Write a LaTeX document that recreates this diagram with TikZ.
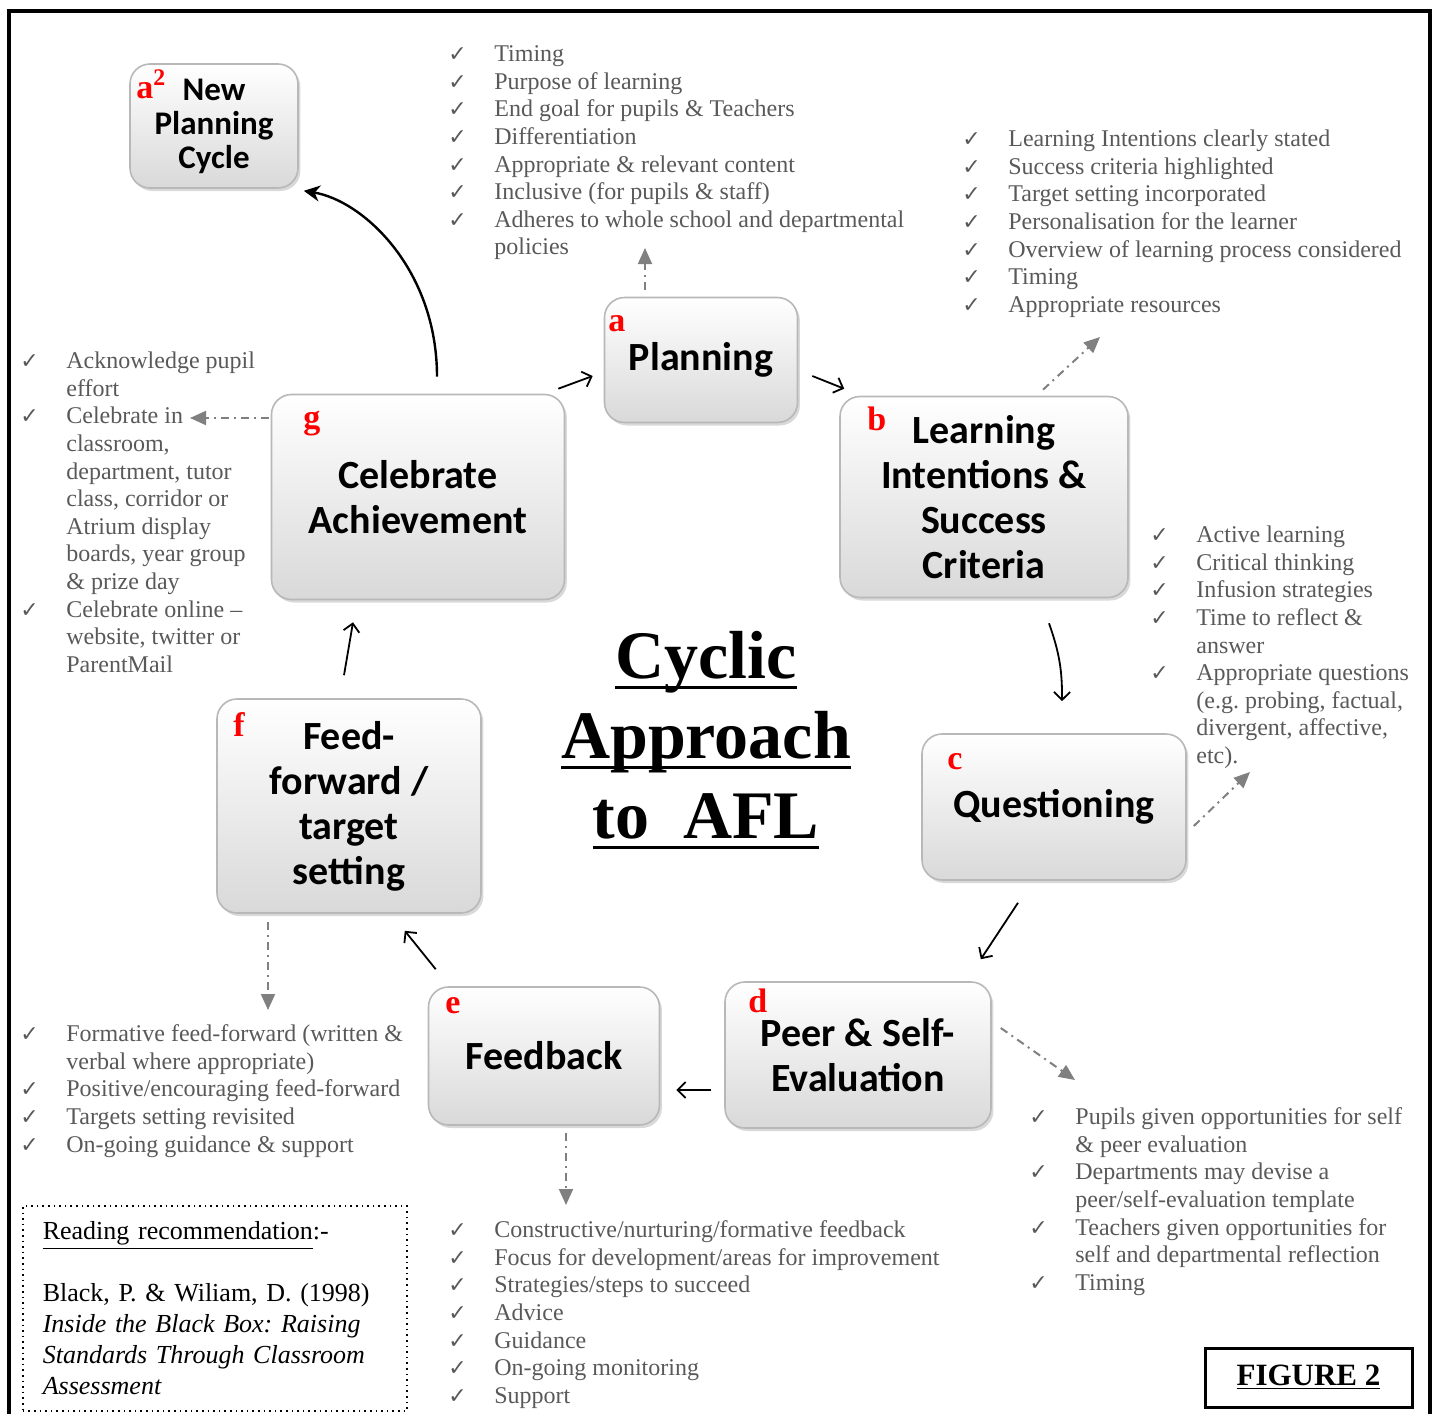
\documentclass[tikz,border=0pt]{standalone}
\usepackage{fontspec}
\setmainfont{Liberation Serif}
\newfontfamily\boxfont{Carlito}
\newfontfamily\symfont{DejaVu Sans}
\usetikzlibrary{arrows.meta,positioning,calc,shadows}
\definecolor{agray}{HTML}{595959}
\definecolor{dgray}{HTML}{808080}
\definecolor{ared}{HTML}{FF0000}
\frenchspacing
\newsavebox\ulbox
\newcommand\ulx[1]{\sbox\ulbox{#1}\rlap{\rule[-5pt]{\wd\ulbox}{1.5pt}}\usebox\ulbox}
\newcommand\ck{{\symfont\fontsize{11}{13.8}\selectfont ✓}}
\tikzset{
  stage/.style={rounded corners=10pt,top color=white,bottom color=black!15,draw=black!28,line width=0.8pt,
    drop shadow={opacity=0.3,shadow xshift=1.2pt,shadow yshift=-1.5pt},align=center,inner sep=2pt,
    font=\boxfont\bfseries\fontsize{20}{22.5}\selectfont},
  tag/.style={anchor=base west,inner sep=0pt,text=ared,font=\bfseries\fontsize{17}{17}\selectfont},
  lst/.style={anchor=north west,inner sep=0pt,text=agray,font=\fontsize{12}{13.8}\selectfont},
  ttl/.style={align=center,inner sep=0pt,font=\bfseries\fontsize{34}{40}\selectfont},
  readbox/.style={draw,dotted,line width=0.8pt,anchor=north west,text width=172pt,align=left,
    inner xsep=10pt,inner ysep=8pt,font=\fontsize{13}{15.5}\selectfont},
  figbox/.style={draw,line width=1.5pt,minimum width=103.5pt,minimum height=29.5pt,font=\bfseries\fontsize{15.5}{17}\selectfont},
  arr/.style={-{Straight Barb[length=4pt,width=8pt]},line width=0.9pt},
  carr/.style={-{Stealth[length=8pt,width=8pt,inset=2.5pt]},line width=1.2pt},
  darr/.style={-{Triangle[length=8pt,width=7pt]},draw=dgray,line width=1pt,dash pattern=on 4pt off 2.5pt on 1pt off 2.5pt},
}
\begin{document}
\begin{tikzpicture}[x=0.5pt,y=-0.5pt]
\useasboundingbox (0,0) rectangle (1437,1414);
\draw[line width=2pt] (9,1420) -- (9,11) -- (1430,11) -- (1430,1420);

% cycle stages
\node[stage,minimum width=84pt,minimum height=62pt,font=\boxfont\bfseries\fontsize{16.5}{17}\selectfont] (a2) at (214,126) {New\\Planning\\Cycle};
\node[stage,minimum width=96.5pt,minimum height=62.5pt] (a) at (701,360) {Planning};
\node[stage,minimum width=144pt,minimum height=100.5pt] (b) at (984,497) {Learning\\Intentions \&\\Success\\Criteria};
\node[stage,minimum width=132pt,minimum height=73pt] (c) at (1054,807) {Questioning};
\node[stage,minimum width=133pt,minimum height=73pt] (d) at (858,1055) {Peer \& Self-\\Evaluation};
\node[stage,minimum width=115.5pt,minimum height=69pt] (e) at (544,1056) {Feedback};
\node[stage,minimum width=132pt,minimum height=107pt] (f) at (349,806) {Feed-\\forward /\\target\\setting};
\node[stage,minimum width=146.5pt,minimum height=102.5pt] (g) at (418,497) {Celebrate\\Achievement};

\node[tag] (ta2) at (136,98) {a\textsuperscript{2}};
\node[tag] (ta) at (608,331) {a};
\node[tag] (tb) at (867,430) {b};
\node[tag] (tc) at (947,769) {c};
\node[tag] (td) at (748,1012) {d};
\node[tag] (te) at (445,1013) {e};
\node[tag] (tf) at (233,736) {f};
\node[tag] (tg) at (303,428) {g};

% check lists
\node[lst] (lA) at (448,42) {\begin{tabular}{@{}p{23pt}@{}l@{}}
\ck & Timing\\ \ck & Purpose of learning\\ \ck & End goal for pupils \& Teachers\\
\ck & Differentiation\\ \ck & Appropriate \& relevant content\\ \ck & Inclusive (for pupils \& staff)\\
\ck & Adheres to whole school and departmental\\ & policies\end{tabular}};
\node[lst] (lB) at (962,127) {\begin{tabular}{@{}p{23pt}@{}l@{}}
\ck & Learning Intentions clearly stated\\ \ck & Success criteria highlighted\\
\ck & Target setting incorporated\\ \ck & Personalisation for the learner\\
\ck & Overview of learning process considered\\ \ck & Timing\\ \ck & Appropriate resources\end{tabular}};
\node[lst] (lC) at (1150,523) {\begin{tabular}{@{}p{23pt}@{}l@{}}
\ck & Active learning\\ \ck & Critical thinking\\ \ck & Infusion strategies\\
\ck & Time to reflect \&\\ & answer\\ \ck & Appropriate questions\\ & (e.g. probing, factual,\\
& divergent, affective,\\ & etc).\end{tabular}};
\node[lst] (lD) at (1029,1105) {\begin{tabular}{@{}p{23pt}@{}l@{}}
\ck & Pupils given opportunities for self\\ & \& peer evaluation\\
\ck & Departments may devise a\\ & peer/self-evaluation template\\
\ck & Teachers given opportunities for\\ & self and departmental reflection\\ \ck & Timing\end{tabular}};
\node[lst] (lE) at (448,1218) {\begin{tabular}{@{}p{23pt}@{}l@{}}
\ck & Constructive/nurturing/formative feedback\\ \ck & Focus for development/areas for improvement\\
\ck & Strategies/steps to succeed\\ \ck & Advice\\ \ck & Guidance\\ \ck & On-going monitoring\\
\ck & Support\end{tabular}};
\node[lst] (lF) at (20,1022) {\begin{tabular}{@{}p{23pt}@{}l@{}}
\ck & Formative feed-forward (written \&\\ & verbal where appropriate)\\
\ck & Positive/encouraging feed-forward\\ \ck & Targets setting revisited\\
\ck & On-going guidance \& support\end{tabular}};
\node[lst] (lG) at (20,349) {\begin{tabular}{@{}p{23pt}@{}l@{}}
\ck & Acknowledge pupil\\ & effort\\ \ck & Celebrate in\\ & classroom,\\ & department, tutor\\
& class, corridor or\\ & Atrium display\\ & boards, year group\\ & \& prize day\\
\ck & Celebrate online --\\ & website, twitter or\\ & ParentMail\end{tabular}};

\node[ttl] (title) at (706,740) {\ulx{Cyclic}\\\ulx{Approach}\\\ulx{to\ \ AFL}};

% cycle arrows
\draw[arr] ([shift={(-7,-5)}]g.north east) -- ([shift={(-11,16)}]a.west);
\draw[arr] ([shift={(14,16)}]a.east) -- ([shift={(5,-7)}]b.north west);
\draw[arr] ([shift={(65,25)}]b.south) to[bend left=10] ([shift={(8,-32)}]c.north);
\draw[arr] ([shift={(-36,22)}]c.south) -- ([shift={(-11,-22)}]d.north east);
\draw[arr] ([shift={(-13,35)}]d.west) -- ([shift={(16,34)}]e.east);
\draw[arr] ([shift={(8,-17)}]e.north west) -- ([shift={(-77,17)}]f.south east);
\draw[arr] ([shift={(-5,-23)}]f.north) -- ([shift={(-65,22)}]g.south);
\draw[carr] ([shift={(19,-17)}]g.north) .. controls ([shift={(19,-124)}]g.north) and ([shift={(65,12)}]a2.south east) .. ([shift={(5,2)}]a2.south east);

% links to the lists
\coordinate (tA) at (645,248);
\coordinate (tB) at (1100,337);
\coordinate (tC) at (1250,772);
\coordinate (tD) at (1075,1080);
\coordinate (tE) at (566,1205);
\coordinate (tF) at (268,1010);
\coordinate (tG) at (190,418);
\draw[darr,shorten <=3.5pt] (a.north -| tA) -- (tA);
\draw[darr] ([shift={(59,-6)}]b.north) -- (tB);
\draw[darr] ([shift={(7,19)}]c.east) -- (tC);
\draw[darr] ([shift={(9,-27)}]d.east) -- (tD);
\draw[darr,shorten <=3.5pt] (e.south -| tE) -- (tE);
\draw[darr,shorten <=4pt] (f.south -| tF) -- (tF);
\draw[darr,shorten <=1pt] (g.west |- tG) -- (tG);

\node[readbox] (read) at (22,1205) {\underline{Reading recommendation}:-\\[15.5pt]
Black, P. \& Wiliam, D. (1998)\\ \textit{Inside the Black Box: Raising}\\
\textit{Standards Through Classroom}\\ \textit{Assessment}};
\node[figbox] (fig) at (1308.5,1377.5) {\underline{FIGURE 2}};
\end{tikzpicture}
\end{document}
